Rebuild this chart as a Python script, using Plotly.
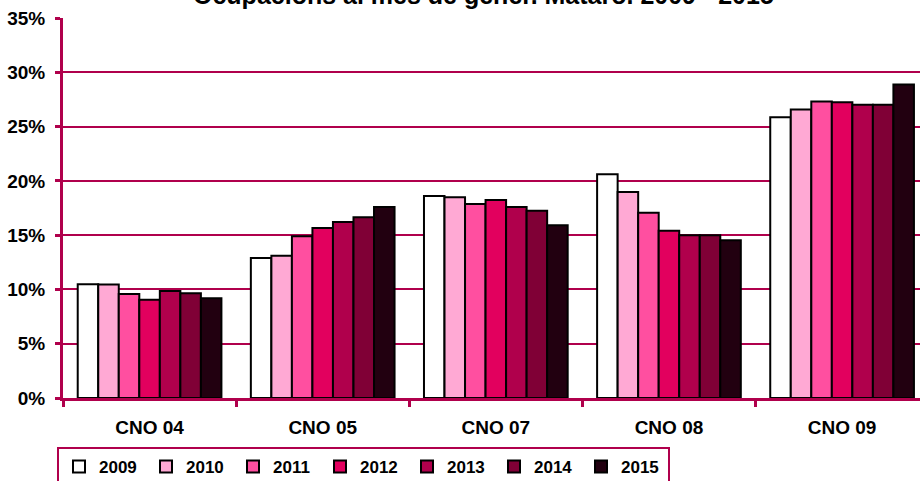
import plotly.graph_objects as go

categories = ["CNO 04", "CNO 05", "CNO 07", "CNO 08", "CNO 09"]
years = ["2009", "2010", "2011", "2012", "2013", "2014", "2015"]

v2009 = [10.47, 12.9, 18.6, 20.6, 25.87]
v2010 = [10.45, 13.1, 18.5, 18.97, 26.58]
v2011 = [9.58, 14.9, 17.86, 17.06, 27.3]
v2012 = [9.05, 15.65, 18.23, 15.4, 27.25]
v2013 = [9.85, 16.2, 17.59, 14.98, 27.0]
v2014 = [9.64, 16.65, 17.25, 14.98, 27.0]
v2015 = [9.18, 17.6, 15.9, 14.52, 28.88]

series = [v2009, v2010, v2011, v2012, v2013, v2014, v2015]
colors = ["#FFFFFF", "#FFA9D4", "#FF4FA0", "#E2005E", "#B0004C", "#800036", "#220010"]
crimson = "#B0004C"
font = "Arial, Liberation Sans, sans-serif"

fig = go.Figure()
for year, vals, col in zip(years, series, colors):
    fig.add_trace(go.Bar(
        x=categories, y=[v / 100 for v in vals], name=year,
        marker=dict(color=col, line=dict(color="black", width=2)),
    ))

# title sits partly above the page edge, as in the original image
fig.add_annotation(
    text="<b>Ocupacions al mes de gener. Mataró. 2009 - 2015</b>",
    xref="paper", yref="paper", x=0.491, y=1 + 23 / 380,
    xanchor="center", yanchor="middle", showarrow=False,
    font=dict(size=25, family=font, color="black"),
)

fig.update_layout(
    width=920, height=481,
    margin=dict(l=63, r=0, t=18, b=83),
    paper_bgcolor="white", plot_bgcolor="white",
    barmode="group", bargap=0.17, bargroupgap=0,
    font=dict(family=font, color="black", size=13),
    showlegend=True,
    legend=dict(
        orientation="h", xref="container", yref="container",
        x=57 / 920, xanchor="left", y=(481 - 447) / 481, yanchor="top",
        bordercolor=crimson, borderwidth=2, bgcolor="white",
        font=dict(size=17, family=font, color="black", weight="bold"),
        itemwidth=30, entrywidth=42, tracegroupgap=0,
    ),
)

fig.update_yaxes(
    range=[0, 0.35], dtick=0.05, tickformat=".0%",
    showgrid=True, gridcolor=crimson, gridwidth=2,
    showline=True, linecolor=crimson, linewidth=3,
    ticks="outside", ticklen=5, tickcolor=crimson, tickwidth=3,
    ticklabelstandoff=6, automargin=False,
    tickfont=dict(size=19, family=font, color="black", weight="bold"),
    zeroline=False,
)
fig.update_xaxes(
    range=[-0.5, 4.45],
    showline=True, linecolor=crimson, linewidth=3,
    ticks="outside", ticklen=6, tickcolor=crimson, tickwidth=3,
    tickson="boundaries", ticklabelstandoff=10, automargin=False,
    tickfont=dict(size=19, family=font, color="black", weight="bold"),
)

fig.write_html(
    "out.html",
    config={"displayModeBar": False},
    post_script="document.body.style.margin='0';document.body.style.overflow='hidden';",
)
